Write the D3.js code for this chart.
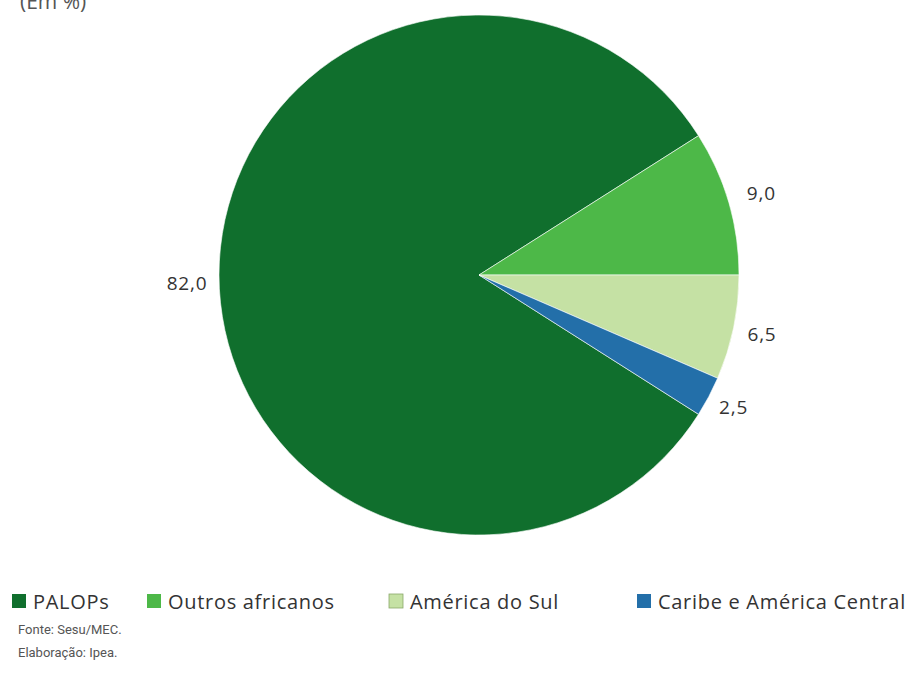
<!DOCTYPE html>
<html>
<head>
<meta charset="utf-8">
<script src="https://cdn.jsdelivr.net/npm/d3@7"></script>
<style>
  html, body { margin: 0; padding: 0; background: #fff; }
  svg { display: block; }
</style>
</head>
<body>
<svg id="chart" width="908" height="673"></svg>
<script>
const categories = ["PALOPs", "Outros africanos", "América do Sul", "Caribe e América Central"];
const values = [82.0, 9.0, 6.5, 2.5];
const valueLabels = ["82,0", "9,0", "6,5", "2,5"];
const colors = ["#106f2d", "#4db848", "#c5e1a4", "#236fa9"];
const titleText = "(Em %)";
const sourceLines = ["Fonte: Sesu/MEC.", "Elaboração: Ipea."];

const svg = d3.select("#chart");
const cx = 479, cy = 275, r = 260;

const total = d3.sum(values);
const offset = Math.PI / 2 + 2 * Math.PI * (values[2] + values[3]) / total;
const pie = d3.pie().sort(null).value(d => d).startAngle(offset).endAngle(offset + 2 * Math.PI);
const arcs = pie(values);
const arc = d3.arc().innerRadius(0).outerRadius(r);

const g = svg.append("g").attr("transform", `translate(${cx},${cy})`);
g.selectAll("path").data(arcs).join("path")
  .attr("d", arc)
  .attr("fill", (d, i) => colors[i])
  .attr("stroke", "#ffffff")
  .attr("stroke-width", 0.6);

// value labels outside the pie
const labelRadius = [292, 294, 289, 288];
const labelDy = [8, 0, 0, -3];
const labelPt = (d, i) => d3.arc().innerRadius(labelRadius[i]).outerRadius(labelRadius[i]).centroid(d);
g.selectAll("text.val").data(arcs).join("text")
  .attr("class", "val")
  .attr("x", (d, i) => labelPt(d, i)[0])
  .attr("y", (d, i) => labelPt(d, i)[1] + labelDy[i])
  .attr("text-anchor", "middle")
  .attr("dominant-baseline", "central")
  .attr("font-family", "'Open Sans', sans-serif")
  .attr("font-size", 19)
  .attr("letter-spacing", 0.8)
  .attr("fill", "#333")
  .text((d, i) => valueLabels[i]);

// title (cut off at top, as in the reference)
svg.append("text")
  .attr("x", 20).attr("y", 9)
  .attr("font-family", "'Open Sans', sans-serif")
  .attr("font-size", 21)
  .attr("fill", "#555")
  .text(titleText);

// legend
const legendX = [12, 147, 389, 637];
const legendY = 601;
const lg = svg.append("g");
categories.forEach((c, i) => {
  lg.append("rect")
    .attr("x", legendX[i]).attr("y", legendY - 7)
    .attr("width", 14).attr("height", 14)
    .attr("fill", colors[i])
    .attr("stroke", i === 2 ? "#8aa86a" : "none")
    .attr("stroke-width", 0.8);
  lg.append("text")
    .attr("x", legendX[i] + 21).attr("y", legendY)
    .attr("dominant-baseline", "central")
    .attr("font-family", "'Open Sans', sans-serif")
    .attr("font-size", 20)
    .attr("letter-spacing", 0.7)
    .attr("fill", "#333")
    .text(c);
});

// source
svg.selectAll("text.src").data(sourceLines).join("text")
  .attr("class", "src")
  .attr("x", 18)
  .attr("y", (d, i) => 634 + i * 23)
  .attr("font-family", "'Liberation Sans Narrow', 'Roboto', sans-serif")
  .attr("font-size", 13)
  .attr("fill", "#555")
  .text(d => d);
</script>
</body>
</html>
